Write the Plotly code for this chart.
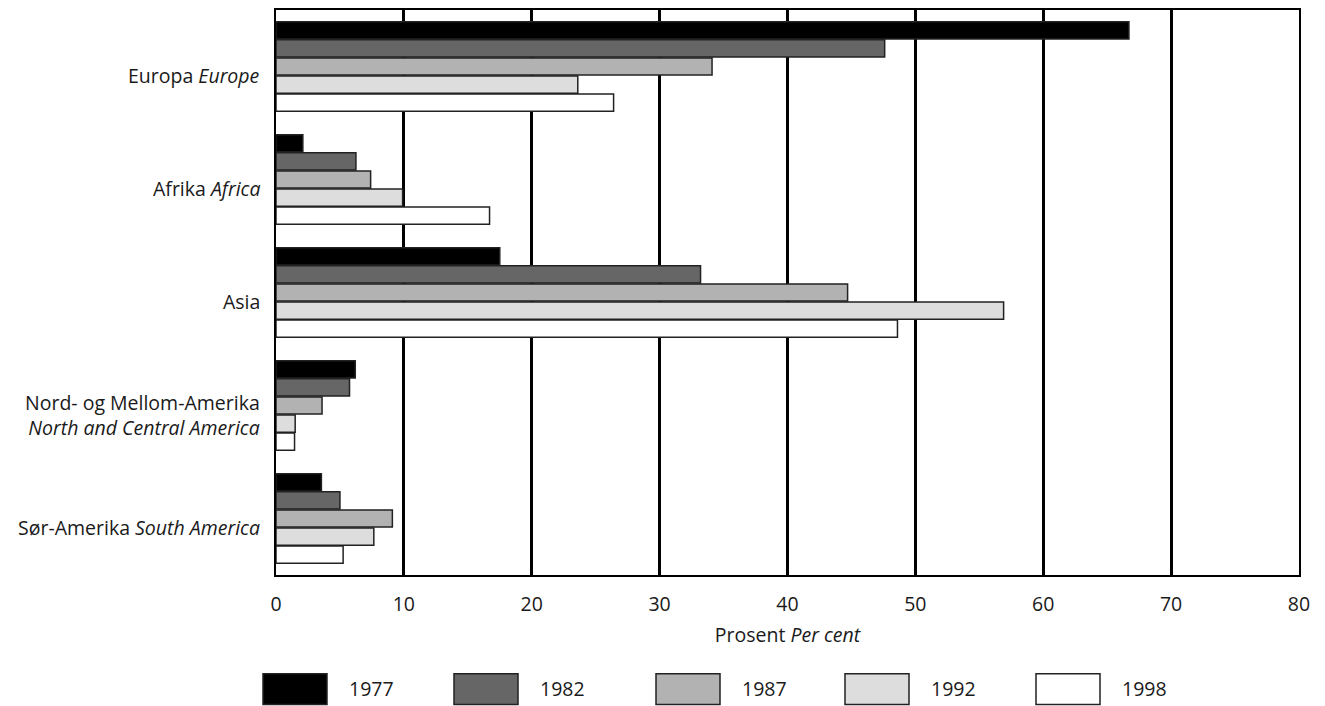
import plotly.graph_objects as go

categories = ["Europa <i>Europe</i>", "Afrika <i>Africa</i>", "Asia",
              "Nord- og Mellom-Amerika<br><i>North and Central America</i>",
              "Sør-Amerika <i>South America</i>"]
years = ["1977", "1982", "1987", "1992", "1998"]
values = {
    "1977": [66.7, 2.1, 17.5, 6.2, 3.55],
    "1982": [47.6, 6.25, 33.2, 5.75, 5.0],
    "1987": [34.1, 7.4, 44.7, 3.6, 9.1],
    "1992": [23.6, 9.9, 56.9, 1.5, 7.65],
    "1998": [26.4, 16.7, 48.6, 1.45, 5.25],
}
colors = ["#000000", "#666666", "#b2b2b2", "#dddddd", "#ffffff"]
x_ticks = [0, 10, 20, 30, 40, 50, 60, 70, 80]

FONT = "Open Sans"
FS = 19.5
W, H = 1317, 698
L, R, T, B = 268, 26, 0, 131
fig = go.Figure()
for yr, col in zip(years, colors):
    fig.add_trace(go.Bar(
        y=categories, x=values[yr], orientation="h", name=yr,
        marker=dict(color=col, line=dict(color="#222222", width=1.5)),
        showlegend=False,
    ))

fig.update_layout(
    width=W, height=H,
    margin=dict(l=L, r=R, t=T, b=B, pad=0),
    paper_bgcolor="white", plot_bgcolor="white",
    barmode="group", bargap=0.2, bargroupgap=0.05,
    font=dict(family=FONT, size=FS, color="#1a1a1a"),
    xaxis=dict(range=[0, 80], tickvals=x_ticks, showgrid=True,
               gridcolor="#000000", gridwidth=3, zeroline=False,
               showline=True, linecolor="#000000", linewidth=2, mirror=True,
               ticks="", ticklabelstandoff=11,
               title=dict(text="Prosent <i>Per cent</i>", standoff=12,
                          font=dict(size=FS))),
    yaxis=dict(autorange="reversed", showticklabels=False, ticks="",
               showgrid=False, showline=True, linecolor="#000000",
               linewidth=2, mirror=True),
)

# category labels
for c in categories:
    fig.add_annotation(x=0, xref="paper", y=c, yref="y", text=c,
                       xanchor="right", xshift=-14, yshift=-9,
                       align="right", showarrow=False,
                       font=dict(family=FONT, size=FS, color="#1a1a1a"))

# legend drawn manually with large swatches (screen px positions)
plot_w = W - L - R
plot_h = H - T - B
sw_x = [263, 454, 656, 845, 1036]
def px(xs):
    return (xs - 8 - L) / plot_w
def py(ys):
    return (plot_h - (ys - 8 - T)) / plot_h
for i, (yr, col) in enumerate(zip(years, colors)):
    fig.add_shape(type="rect", xref="paper", yref="paper",
                  x0=px(sw_x[i]), x1=px(sw_x[i] + 64), y0=py(705), y1=py(674),
                  fillcolor=col, line=dict(color="#222222", width=1.5))
    fig.add_annotation(xref="paper", yref="paper",
                       x=px(sw_x[i] + 108), y=py(689),
                       text=yr, showarrow=False, xanchor="center",
                       yanchor="middle",
                       font=dict(family=FONT, size=FS, color="#1a1a1a"))

fig.write_html("out.html")
